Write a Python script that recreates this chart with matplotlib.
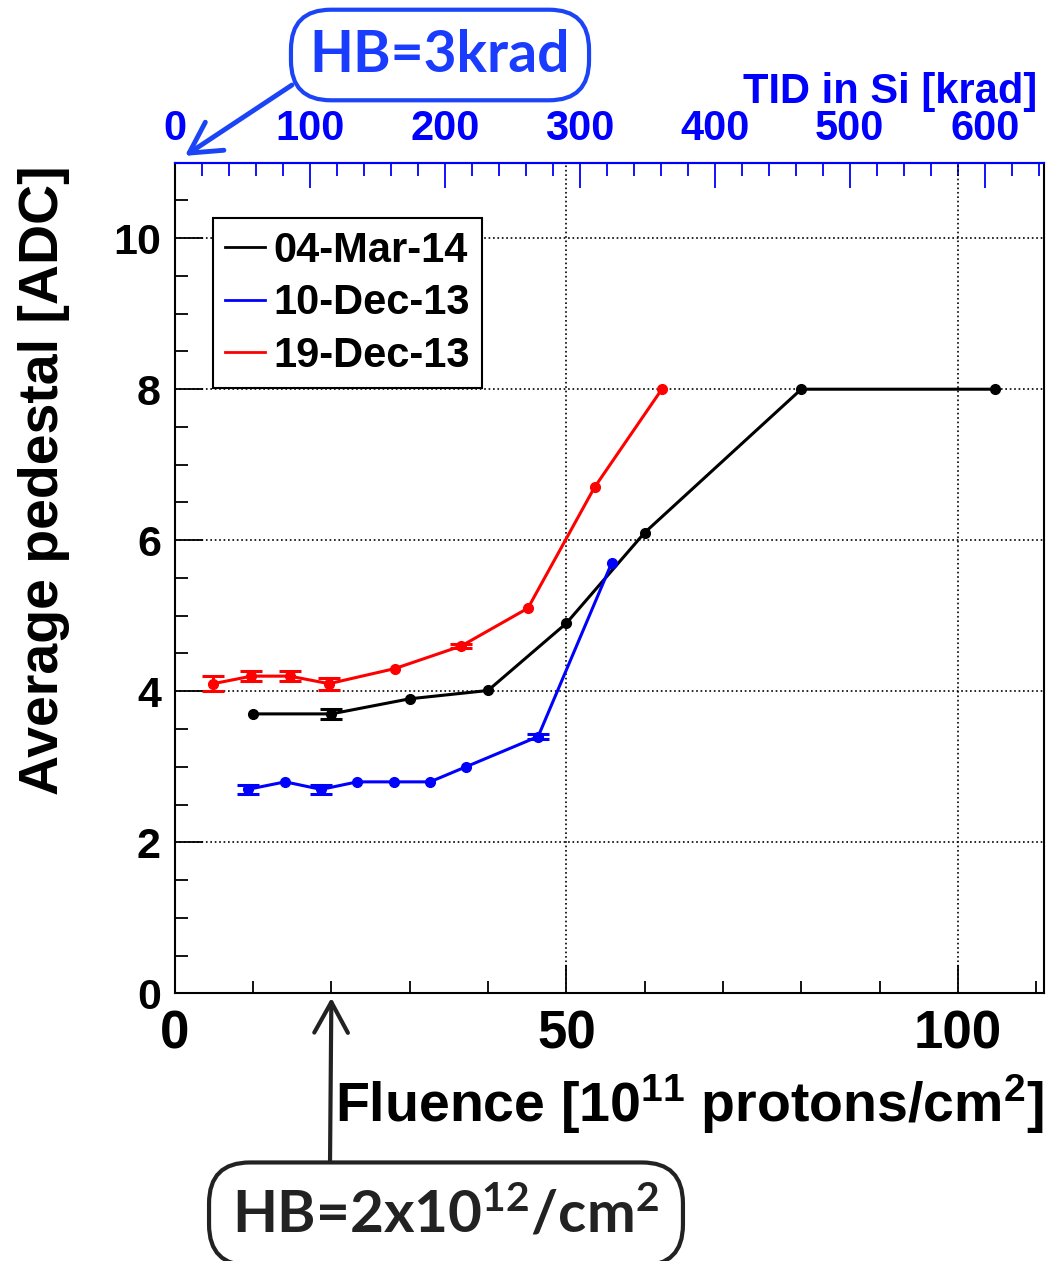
import numpy as np
import matplotlib
matplotlib.use("Agg")
import matplotlib.pyplot as plt
from matplotlib.ticker import MultipleLocator, FixedLocator
from matplotlib.lines import Line2D

plt.rcParams['font.family'] = ['Liberation Sans', 'DejaVu Sans']
plt.rcParams['font.weight'] = 'bold'
plt.rcParams['axes.labelweight'] = 'bold'
plt.rcParams['mathtext.fontset'] = 'custom'
plt.rcParams['mathtext.rm'] = 'Liberation Sans:bold'
plt.rcParams['mathtext.sf'] = 'Lato:bold'
plt.rcParams['mathtext.default'] = 'rm'

# Datos
labels = ['04-Mar-14', '10-Dec-13', '19-Dec-13']
colors = ['black', '#0000ff', '#ff0000']

x_mar = [10.0, 20.0, 30.0, 40.0, 50.0, 60.0, 80.0, 104.7]
y_mar = [3.70, 3.70, 3.90, 4.01, 4.90, 6.10, 8.00, 8.00]
e_mar = [0.0, 0.07, 0.0, 0.0, 0.0, 0.0, 0.0, 0.0]

x_dec10 = [9.3, 14.1, 18.7, 23.3, 28.0, 32.6, 37.2, 46.4, 55.8]
y_dec10 = [2.70, 2.80, 2.70, 2.80, 2.80, 2.80, 3.00, 3.40, 5.70]
e_dec10 = [0.06, 0.0, 0.06, 0.0, 0.0, 0.0, 0.0, 0.03, 0.0]

x_dec19 = [4.9, 9.8, 14.7, 19.7, 28.1, 36.6, 45.1, 53.6, 62.2]
y_dec19 = [4.10, 4.20, 4.20, 4.10, 4.30, 4.60, 5.10, 6.70, 8.00]
e_dec19 = [0.10, 0.07, 0.07, 0.08, 0.0, 0.03, 0.0, 0.0, 0.0]

tid_ticks = [0, 100, 200, 300, 400, 500, 600]
krad_per_fluence = 5.8

fig = plt.figure(figsize=(10.61, 12.61), dpi=100)
ax = fig.add_axes([0.1647, 0.2123, 0.8193, 0.6587])

series = [(x_mar, y_mar, e_mar), (x_dec10, y_dec10, e_dec10), (x_dec19, y_dec19, e_dec19)]
for (xs, ys, es), c in zip(series, colors):
    ax.plot(xs, ys, color=c, lw=2.2, marker='o', ms=7)
    # solo los puntos con error
    xe = [x for x, e in zip(xs, es) if e > 0]
    ye = [y for y, e in zip(ys, es) if e > 0]
    ee = [e for e in es if e > 0]
    ax.errorbar(xe, ye, yerr=ee, fmt='none', ecolor=c, capsize=8, capthick=2.2,
                elinewidth=2.2)

ax.set_xlim(0, 111)
ax.set_ylim(0, 11)

# ejes y ticks estilo ROOT
ax.xaxis.set_major_locator(MultipleLocator(50))
ax.xaxis.set_minor_locator(MultipleLocator(10))
ax.yaxis.set_major_locator(MultipleLocator(2))
ax.yaxis.set_minor_locator(MultipleLocator(0.5))
ax.tick_params(axis='both', which='major', direction='in', length=20, width=1.3)
ax.tick_params(axis='both', which='minor', direction='in', length=9, width=1.3)
ax.tick_params(axis='x', which='major', labelsize=38, pad=12)
ax.tick_params(axis='y', which='major', labelsize=31, pad=10)
ax.tick_params(top=False, right=False, which='both')
ax.grid(True, which='major', color='black', linestyle=':', linewidth=1.2)
for s in ax.spines.values():
    s.set_linewidth(1.5)
ax.spines['top'].set_color('#0000ff')

ax.set_xlabel(r'Fluence [10$^{11}$ protons/cm$^{2}$]', fontsize=40, loc='right')
ax.xaxis.set_label_coords(1.0, -0.095)
ax.set_ylabel('Average pedestal [ADC]', fontsize=40, loc='top')
ax.yaxis.set_label_coords(-0.12, 0.997)

# eje superior TID
sec = ax.secondary_xaxis('top', functions=(lambda f: f * krad_per_fluence,
                                           lambda k: k / krad_per_fluence))
sec.xaxis.set_major_locator(FixedLocator(tid_ticks))
sec.xaxis.set_minor_locator(FixedLocator(np.arange(0, 641, 20)))
sec.tick_params(which='major', direction='in', length=18, width=1.3, colors='#0000ff',
                labelsize=30, pad=10)
sec.tick_params(which='minor', direction='in', length=9, width=1.3, colors='#0000ff')
sec.spines['top'].set_color('#0000ff')
sec.spines['top'].set_linewidth(1.5)
fig.text(1037 / 1061, 1 - 92 / 1261, 'TID in Si [krad]', color='#0000ff', fontsize=30,
         ha='right', va='center')

handles = [Line2D([], [], color=c, lw=2) for c in colors]
leg = ax.legend(handles, labels, loc='upper left', bbox_to_anchor=(0.044, 0.933),
                borderaxespad=0, fontsize=30, handlelength=0.95, handletextpad=0.2,
                labelspacing=0.3, borderpad=0.3, fancybox=False, framealpha=1,
                edgecolor='black')
leg.get_frame().set_linewidth(1.5)

# recuadros de anotacion
fig.text(440 / 1061, 1 - 55 / 1261, 'HB=3krad', family=['Lato', 'DejaVu Sans'],
         fontsize=41, fontweight='bold', color='#1a3cff', ha='center', va='center',
         bbox=dict(boxstyle='round,pad=0.33,rounding_size=0.7', fc='white',
                   ec='#1a44f5', lw=3))
ax.annotate('', xy=(1.3, 11.09), xycoords='data',
            xytext=(292 / 1061, 1 - 85 / 1261), textcoords='figure fraction',
            arrowprops=dict(arrowstyle='->,head_length=1.0,head_width=0.55',
                            color='#1a44f5', lw=3.5, shrinkA=0, shrinkB=0,
                            mutation_scale=22),
            annotation_clip=False)

fig.text(446 / 1061, 1 - 1214 / 1261, r'HB=2x10$^{\mathsf{12}}$/cm$^{\mathsf{2}}$',
         family=['Lato', 'DejaVu Sans'],
         fontsize=42, fontweight='bold', color='#222222', ha='center', va='center',
         bbox=dict(boxstyle='round,pad=0.4,rounding_size=0.7', fc='white',
                   ec='#222222', lw=3))
ax.annotate('', xy=(20, -0.06), xycoords='data',
            xytext=(330 / 1061, 1 - 1165 / 1261), textcoords='figure fraction',
            arrowprops=dict(arrowstyle='->,head_length=1.0,head_width=0.55',
                            color='#222222', lw=3, shrinkA=0, shrinkB=0,
                            mutation_scale=22),
            annotation_clip=False)

fig.savefig('out.png', dpi=100)
